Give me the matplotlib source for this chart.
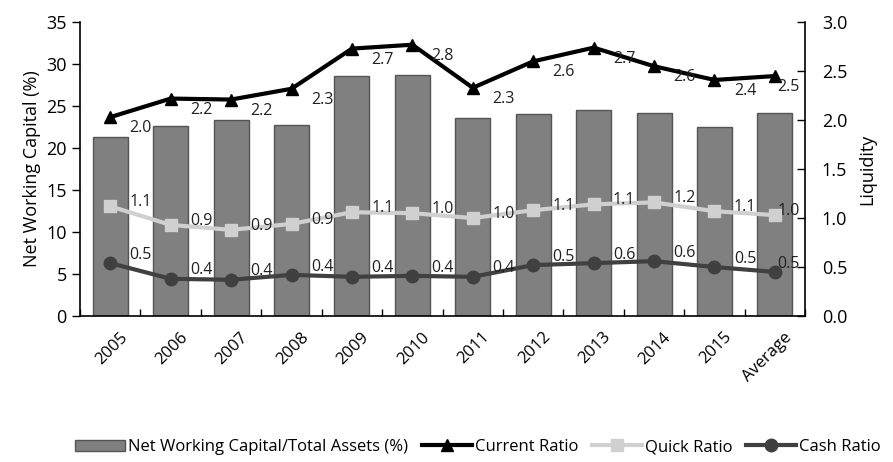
import matplotlib
matplotlib.use('Agg')
import matplotlib.pyplot as plt
import matplotlib.transforms as mtransforms
from matplotlib.ticker import FormatStrFormatter, FixedLocator

plt.rcParams['font.family'] = ['Liberation Sans Narrow', 'Open Sans', 'DejaVu Sans']

years = ['2005', '2006', '2007', '2008', '2009', '2010', '2011', '2012',
         '2013', '2014', '2015', 'Average']
nwc = [21.3, 22.6, 23.4, 22.7, 28.6, 28.7, 23.6, 24.1, 24.5, 24.2, 22.5, 24.2]
current_ratio = [2.03, 2.22, 2.21, 2.32, 2.73, 2.77, 2.33, 2.60, 2.74, 2.55, 2.41, 2.45]
quick_ratio = [1.12, 0.93, 0.88, 0.94, 1.06, 1.05, 1.00, 1.08, 1.14, 1.16, 1.07, 1.03]
cash_ratio = [0.54, 0.38, 0.37, 0.42, 0.40, 0.41, 0.40, 0.52, 0.54, 0.56, 0.50, 0.45]
current_labels = ['2.0', '2.2', '2.2', '2.3', '2.7', '2.8', '2.3', '2.6', '2.7', '2.6', '2.4', '2.5']
quick_labels = ['1.1', '0.9', '0.9', '0.9', '1.1', '1.0', '1.0', '1.1', '1.1', '1.2', '1.1', '1.0']
cash_labels = ['0.5', '0.4', '0.4', '0.4', '0.4', '0.4', '0.4', '0.5', '0.6', '0.6', '0.5', '0.5']

fig = plt.figure(figsize=(8.93, 4.62), dpi=100)
ax = fig.add_axes([0.0896, 0.316, 0.812, 0.636])
x = list(range(len(years)))

ax.bar(x, nwc, width=0.58, color='#808080', edgecolor='#555555', linewidth=1,
       label='Net Working Capital/Total Assets (%)', zorder=2)
ax.set_xlim(-0.5, len(years) - 0.5)
ax.set_ylim(0, 35)
ax.set_yticks(range(0, 36, 5))
ax.set_ylabel('Net Working Capital (%)', fontsize=13, labelpad=4)
ax.tick_params(axis='y', direction='out', length=6, labelsize=13, width=1)
ax.set_xticks(x)
ax.set_xticklabels(years, rotation=45, ha='right', rotation_mode='anchor', fontsize=12)
ax.tick_params(axis='x', length=0, pad=8)
shift = mtransforms.ScaledTranslation(0.09, -0.02, fig.dpi_scale_trans)
for lab in ax.get_xticklabels():
    lab.set_transform(lab.get_transform() + shift)
ax.xaxis.set_minor_locator(FixedLocator([i + 0.5 for i in range(-1, len(years))]))
ax.tick_params(axis='x', which='minor', direction='in', length=5, width=1)
ax.spines['top'].set_visible(False)
ax.spines['right'].set_visible(False)
for s in ['left', 'bottom']:
    ax.spines[s].set_linewidth(1.2)

ax2 = ax.twinx()
ax2.set_ylim(0, 3.0)
ax2.set_yticks([0, 0.5, 1.0, 1.5, 2.0, 2.5, 3.0])
ax2.yaxis.set_major_formatter(FormatStrFormatter('%.1f'))
ax2.tick_params(axis='y', direction='in', length=6, labelsize=13, width=1, pad=12)
ax2.set_ylabel('Liquidity', fontsize=13, rotation=90, labelpad=8)
ax2.spines['top'].set_visible(False)
ax2.spines['left'].set_visible(False)
ax2.spines['bottom'].set_visible(False)
ax2.spines['right'].set_linewidth(1.2)

ax2.plot(x, current_ratio, color='black', lw=3, marker='^', ms=9, label='Current Ratio', zorder=4)
ax2.plot(x, quick_ratio, color='#d0d0d0', lw=3, marker='s', ms=8, label='Quick Ratio', zorder=4)
ax2.plot(x, cash_ratio, color='#404040', lw=3, marker='o', ms=9, label='Cash Ratio', zorder=4)

for vals, labs, dy in [(current_ratio, current_labels, -8),
                       (quick_ratio, quick_labels, 3),
                       (cash_ratio, cash_labels, 6)]:
    for i, (v, t) in enumerate(zip(vals, labs)):
        dx = 22 if i < len(vals) - 1 else 10
        ax2.annotate(t, (i, v), xytext=(dx, dy), textcoords='offset points',
                     ha='center', va='center', fontsize=11.5, color='#222222', zorder=5)

h1, l1 = ax.get_legend_handles_labels()
h2, l2 = ax2.get_legend_handles_labels()
fig.legend(h1 + h2, l1 + l2, loc='center', bbox_to_anchor=(0.535, 0.032), ncol=4,
           frameon=False, fontsize=12, handlelength=3, handletextpad=0.2,
           columnspacing=0.8)

fig.savefig('out.png', dpi=100)
